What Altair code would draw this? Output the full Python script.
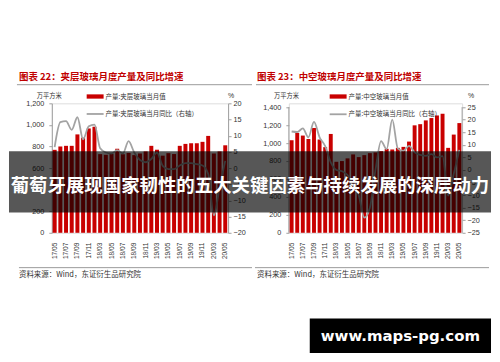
import altair as alt
import pandas as pd

# ---------------- data ----------------
months = ["17/05", "17/06", "17/07", "17/08", "17/09", "17/10", "17/11", "17/12",
          "18/03", "18/04", "18/05", "18/06", "18/07", "18/08", "18/09", "18/10", "18/11", "18/12",
          "19/03", "19/04", "19/05", "19/06", "19/07", "19/08", "19/09", "19/10", "19/11", "19/12",
          "20/03", "20/04", "20/05"]

laminated_values = [769, 800, 806, 806, 912, 882, 967, 983,
                    729, 723, 730, 779, 728, 740, 720, 735, 754, 806,
                    770, 715, 738, 730, 806, 824, 830, 830, 843, 898,
                    735, 754, 811]
laminated_yoy = [6.5, 14.2, 14.5, 11.8, 15.7, 8.9, 12.9, 13.4,
                 6.1, 4.8, 4.5, 5.5, 4.5, 8.3, 4.8, 2.5, 1.8, 2.8,
                 4.8, 0.7, -0.3, -0.3, 0.8, 1.5, 1.5, 1.2, 0.8, -1.8,
                 -14.6, -6.0, 2.2]

hollow_values = [1031, 1112, 1083, 1045, 1167, 1039, 954, 1101,
                 791, 799, 829, 873, 843, 865, 887, 895, 909, 935,
                 928, 946, 957, 1016, 1197, 1210, 1252, 1278, 1307, 1326,
                 946, 1094, 1222]
hollow_yoy = [15.3, 15.1, 16.5, 13.0, 19.1, 13.0, 9.5, 3.0,
              0.0, -0.5, -2.0, -6.0, -10.0, -19.0, -15.0, 0.0, 11.5, 8.3,
              20.0, 8.5, 7.6, 9.6, 7.0, 6.0, 5.6, 6.3, 5.0, 5.5,
              -10.2, -1.6, 8.0]

left_ticks = [0, 200, 400, 600, 800, 1000, 1200]
left_rticks = [-20, -15, -10, -5, 0, 5, 10, 15, 20]
right_ticks = [0, 200, 400, 600, 800, 1000, 1200, 1400]
right_rticks = [-25, -20, -15, -10, -5, 0, 5, 10, 15, 20, 25]

titles = ["图表 22：夹层玻璃月度产量及同比增速", "图表 23：中空玻璃月度产量及同比增速"]
legend_bar = ["产量:夹层玻璃当月值", "产量:中空玻璃当月值"]
legend_line = ["产量:夹层玻璃当月同比（右轴）", "产量:中空玻璃当月同比（右轴）"]
unit_left = "万平方米"
unit_right = "%"
source = "资料来源：Wind，东证衍生品研究院"
banner = "葡萄牙展现国家韧性的五大关键因素与持续发展的深层动力"
watermark = "www.maps-pg.com"

CJK = "Noto Sans CJK SC"
LAT = "Liberation Sans"
RED = "#c90000"
GRAY_LINE = "#a3a3a3"
AX = "#a0a0a0"
TXT = "#333333"
H = 130


def one():
    return pd.DataFrame({"a": [0]})


def txt(s, x, y, size, color=TXT, weight="normal", align="left", font=CJK):
    return alt.Chart(pd.DataFrame({"t": [s]})).mark_text(
        align=align, baseline="middle", fontSize=size, color=color,
        fontWeight=weight, font=font
    ).encode(x=alt.value(x), y=alt.value(y), text="t:N")


def box(x1, x2, y1, y2, color, opacity=1.0):
    return alt.Chart(one()).mark_rect(color=color, opacity=opacity).encode(
        x=alt.value(x1), x2=alt.value(x2), y=alt.value(y1), y2=alt.value(y2))


def hline(x1, x2, y, color, width=1.0):
    return alt.Chart(one()).mark_rule(color=color, strokeWidth=width).encode(
        x=alt.value(x1), x2=alt.value(x2), y=alt.value(y))


def vline(x, y1, y2, color, width=1.0):
    return alt.Chart(one()).mark_rule(color=color, strokeWidth=width).encode(
        x=alt.value(x), y=alt.value(y1), y2=alt.value(y2))


def base_layers(values, yoy, ytop, rmin, rtop, yticks, rticks, show_domain):
    df = pd.DataFrame({"month": months, "value": values, "yoy": yoy})
    xenc = alt.X("month:N", sort=months,
                 scale=alt.Scale(paddingInner=0.3, paddingOuter=0.15),
                 axis=alt.Axis(values=months[::2], labelAngle=270, labelFontSize=6.6,
                               labelColor=TXT, labelFont=LAT, domain=False, ticks=False,
                               tickSize=0, labelPadding=9.4, title=None, grid=False))
    bars = alt.Chart(df).mark_bar(color=RED).encode(
        x=xenc,
        y=alt.Y("value:Q", scale=alt.Scale(domain=[0, ytop], nice=False),
                axis=alt.Axis(values=yticks, format=",.0f", orient="left", title=None, grid=False,
                              labelFontSize=7.3, labelColor=TXT, labelFont=LAT,
                              domain=show_domain, domainColor=AX, tickColor=AX,
                              tickSize=3, labelPadding=5)))
    line = alt.Chart(df).mark_line(color=GRAY_LINE, strokeWidth=1.8, interpolate="monotone").encode(
        x=xenc,
        y=alt.Y("yoy:Q", scale=alt.Scale(domain=[rmin, rtop], nice=False, zero=False),
                axis=alt.Axis(values=rticks, format="d", orient="right", title=None, grid=False,
                              labelFontSize=7.3, labelColor=TXT, labelFont=LAT,
                              domain=show_domain, domainColor=AX, tickColor=AX,
                              tickSize=3, labelPadding=2)))
    return bars, line


# ---------------- left panel ----------------
W1 = 177
lb, ll = base_layers(laminated_values, laminated_yoy, 1200, -20, 20, left_ticks, left_rticks, True)
left = alt.layer(
    box(-43, 441, -94, 252, "white", 0.0),
    lb, ll,
    txt(titles[0], -33, -26, 9.5, color="#c00000", weight="bold"),
    hline(-35, 201, -18.7, "#9a9a9a", 1),
    txt(unit_left, -2.5, -7.7, 6.3, align="center"),
    txt(unit_right, 180, -7.7, 7, align="center", font=LAT),
    box(35, 52, -9, -4.7, RED),
    txt(legend_bar[0], 54, -6.8, 6.5),
    hline(35, 52, 10.7, GRAY_LINE, 1.8),
    txt(legend_line[0], 54, 10.9, 6.5),
    hline(-33, 201, 165, "#9a9a9a", 1),
    txt(source, -33, 172.5, 7.5),
).resolve_scale(y="independent").properties(width=W1, height=H)

# ---------------- right panel ----------------
W2 = 174
top_px = 3.8
ytop_r = 1400 * H / (H - top_px)
rtop_r = -25 + 50 * H / (H - top_px)
rb, rl = base_layers(hollow_values, hollow_yoy, ytop_r, -25, rtop_r, right_ticks, right_rticks, False)
right = alt.layer(
    vline(0, top_px, H, AX),
    vline(W2, top_px, H, AX),
    rb, rl,
    txt(titles[1], -32, -26, 9.5, color="#c00000", weight="bold"),
    hline(-33, 201, -18.7, "#9a9a9a", 1),
    txt(unit_left, -2.3, -7.7, 6.3, align="center"),
    txt(unit_right, 183, -7.7, 7, align="center", font=LAT),
    box(41, 58, -9, -4.7, RED),
    txt(legend_bar[1], 60, -6.8, 6.5),
    hline(41, 58, 11, GRAY_LINE, 1.8),
    txt(legend_line[1], 60, 11.2, 6.5),
    hline(-34, 201, 165, "#9a9a9a", 1),
    txt(source, -32, 172.5, 7.5),
    box(-281, 203, 48, 109.7, "black", 0.66),
    txt(banner, -39, 83, 18.5, color="white", weight="bold", align="center"),
    box(21, 203, 216, 250.7, "black", 1.0),
    txt(watermark, 112, 233.5, 15, color="white", weight="bold", align="center", font="DejaVu Sans"),
).resolve_scale(y="independent").properties(width=W2, height=H)

chart = alt.hconcat(left, right, spacing=61, bounds="flush").properties(
    padding=0
).configure_view(strokeWidth=0).configure(background="white")

chart.save("out.html", embed_options={"renderer": "svg", "actions": False})
